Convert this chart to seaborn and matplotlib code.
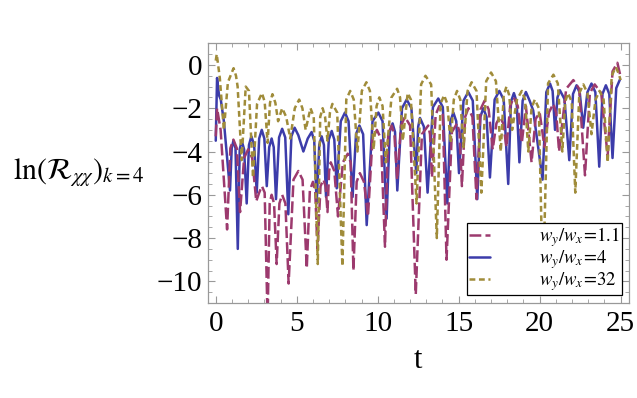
import numpy as np
import pandas as pd
import matplotlib
matplotlib.use("Agg")
import matplotlib.pyplot as plt
import seaborn as sns
from matplotlib.ticker import MultipleLocator

# w_y/w_x = 4 (solid blue) (peaks, shoulders, dips)
t_w4 = [0.0, 0.08, 0.2, 0.31, 0.5, 0.88, 0.985, 1.09, 1.22, 1.36, 1.48, 1.6,
        1.75, 1.91, 2.05, 2.2, 2.37, 2.53, 2.68, 2.84, 3.0, 3.15, 3.3, 3.45,
        3.58, 3.72, 3.91, 4.1, 4.29, 4.48, 4.67, 4.87, 5.1, 5.41, 5.68, 5.92,
        6.08, 6.23, 6.39, 6.54, 6.68, 6.81, 6.98, 7.16, 7.32, 7.47, 7.72,
        7.98, 8.2, 8.45, 8.66, 8.87, 9.1, 9.32, 9.68, 10.04, 10.3, 10.55,
        10.74, 10.92, 11.07, 11.21, 11.5, 11.79, 12.08, 12.38, 12.5, 12.61,
        12.85, 13.08, 13.41, 13.74, 14.02, 14.3, 14.49, 14.67, 14.85, 15.02,
        15.3, 15.59, 15.87, 16.15, 16.34, 16.52, 16.72, 16.93, 17.22, 17.51,
        17.78, 18.06, 18.23, 18.41, 18.58, 18.75, 18.95, 19.15, 19.38, 19.6,
        20.18, 20.41, 20.64, 20.8, 20.95, 21.1, 21.25, 21.53, 21.83, 22.06,
        22.28, 22.48, 22.69, 22.95, 23.2, 23.44, 23.68, 23.88, 24.09, 24.3,
        24.5, 24.73, 24.96]
v_w4 = [-3.5, -0.6, -1.4, -1.6, -2.6, -5.8, -3.85, -3.5, -3.85, -8.5, -3.9,
        -3.5, -3.9, -6.4, -3.7, -3.3, -3.7, -5.9, -3.4, -3.0, -3.4, -5.6,
        -3.8, -3.4, -3.8, -6.2, -3.35, -2.95, -3.35, -6.9, -3.3, -2.9, -3.25,
        -4.0, -3.4, -3.1, -3.5, -6.4, -3.7, -3.3, -3.7, -6.1, -3.45, -3.05,
        -3.45, -5.7, -2.6, -2.2, -2.6, -6.1, -3.2, -2.8, -3.2, -7.4, -2.6,
        -2.2, -2.6, -7.1, -3.1, -2.7, -3.1, -5.8, -2.0, -1.6, -2.0, -5.0,
        -2.85, -2.45, -2.85, -5.9, -1.95, -1.55, -1.95, -6.4, -2.6, -2.2,
        -2.6, -5.0, -1.65, -1.25, -1.65, -6.2, -2.4, -2.0, -2.4, -5.2, -1.6,
        -1.2, -1.6, -5.5, -1.7, -1.3, -1.7, -4.5, -1.65, -1.25, -1.65, -2.1,
        -5.3, -1.26, -0.86, -1.2, -3.0, -1.5, -1.17, -1.57, -4.4, -1.34,
        -0.94, -1.3, -2.9, -1.26, -0.86, -1.26, -4.7, -1.34, -0.94, -1.34,
        -4.3, -1.07, -0.67]

# w_y/w_x = 1.1 (long dashes, magenta)
t_w11 = [0.0, 0.08, 0.3, 0.7, 0.9, 1.09, 1.3, 1.5, 1.75, 2.0, 2.25, 2.5,
         2.68, 2.85, 3.02, 3.2, 3.33, 3.45, 3.6, 3.76, 3.93, 4.1, 4.3, 4.5,
         4.8, 5.1, 5.36, 5.62, 5.81, 6.0, 6.14, 6.28, 6.47, 6.65, 6.78, 6.9,
         7.0, 7.1, 7.32, 7.55, 7.85, 8.15, 8.33, 8.5, 8.7, 8.9, 9.15, 9.4,
         9.68, 9.95, 10.2, 10.45, 10.65, 10.86, 11.03, 11.2, 11.44, 11.68,
         12.0, 12.35, 12.73, 13.12, 13.23, 13.35, 13.58, 13.8, 14.02, 14.25,
         14.58, 14.9, 15.05, 15.2, 15.4, 15.6, 15.85, 16.1, 16.35, 16.6,
         16.85, 17.1, 17.33, 17.55, 17.75, 17.95, 18.18, 18.4, 18.65, 18.9,
         19.15, 19.5, 19.75, 20.0, 20.3, 20.57, 20.84, 21.02, 21.2, 21.64,
         22.08, 22.44, 22.8, 23.1, 23.4, 23.8, 24.2, 24.5, 24.8, 25.0]
v_w11 = [-3.3, -2.0, -3.0, -7.6, -3.85, -3.45, -3.85, -6.8, -4.3, -3.9,
         -4.3, -6.3, -5.9, -5.6, -5.9, -11.8, -6.4, -6.0, -6.4, -9.2, -6.4,
         -6.0, -6.4, -10.1, -5.3, -4.9, -5.3, -9.4, -5.8, -5.4, -5.8, -8.5,
         -5.6, -5.3, -5.6, -6.8, -4.9, -4.5, -4.9, -7.0, -4.5, -4.1, -4.5,
         -9.5, -5.4, -5.0, -5.4, -7.0, -3.4, -3.0, -3.4, -8.4, -3.2, -2.8,
         -3.2, -5.3, -2.8, -2.4, -2.8, -10.6, -3.2, -2.8, -3.2, -5.2, -2.3,
         -1.9, -2.3, -9.0, -3.1, -2.7, -3.1, -5.6, -2.4, -2.0, -2.4, -6.2,
         -2.05, -1.65, -2.05, -3.9, -2.7, -2.4, -2.7, -3.8, -1.9, -1.5, -1.9,
         -3.6, -1.9, -4.5, -2.5, -2.2, -3.8, -2.2, -1.8, -2.2, -4.0, -1.1,
         -0.7, -1.1, -5.1, -1.3, -0.9, -1.3, -4.2, -0.3, 0.1, -0.55]

# w_y/w_x = 32 (short dashes, olive)
t_w32 = [0.0, 0.06, 0.25, 0.5, 0.75, 1.1, 1.25, 1.35, 1.6, 1.85, 2.05, 2.3,
         2.55, 2.85, 3.02, 3.2, 3.35, 3.5, 3.68, 3.85, 4.1, 4.35, 4.6, 4.88,
         5.15, 5.35, 5.55, 5.85, 6.05, 6.3, 6.45, 6.6, 6.75, 6.9, 7.05, 7.2,
         7.5, 7.82, 8.06, 8.3, 8.52, 8.75, 9.02, 9.3, 9.52, 9.75, 9.93, 10.1,
         10.3, 10.5, 10.85, 11.2, 11.38, 11.55, 11.85, 12.05, 12.4, 12.68,
         12.95, 13.3, 13.65, 13.88, 14.1, 14.3, 14.5, 14.7, 14.9, 15.1, 15.3,
         15.55, 15.8, 16.1, 16.4, 16.7, 17.0, 17.3, 17.6, 17.78, 17.95,
         18.12, 18.3, 18.6, 18.9, 19.1, 19.3, 19.5, 19.7, 19.95, 20.2, 20.52,
         20.85, 21.12, 21.4, 21.58, 21.75, 21.98, 22.2, 22.45, 22.7, 22.95,
         23.2, 23.45, 23.7, 23.95, 24.2, 24.45, 24.7, 24.88, 25.0]
v_w32 = [0.2, 0.5, -0.6, -3.0, -0.8, -0.15, -0.5, -1.0, -4.4, -1.0, -1.2,
         -5.2, -1.8, -1.3, -1.7, -3.6, -1.75, -1.35, -1.75, -2.6, -2.0, -2.4,
         -3.4, -2.0, -1.6, -2.0, -3.0, -2.0, -2.4, -9.2, -2.4, -2.0, -2.4,
         -3.5, -2.2, -1.8, -2.2, -9.3, -1.6, -1.2, -1.6, -4.0, -1.2, -0.8,
         -1.2, -3.9, -1.9, -1.5, -1.9, -4.5, -1.5, -1.1, -1.5, -3.5, -1.3,
         -1.6, -6.4, -0.9, -0.5, -0.9, -8.0, -1.8, -1.4, -1.8, -3.6, -1.6,
         -1.2, -1.6, -3.8, -1.2, -0.8, -1.2, -5.9, -0.75, -0.35, -0.75, -4.0,
         -1.4, -1.0, -1.4, -3.0, -1.6, -1.2, -1.6, -4.0, -2.0, -1.6, -2.0,
         -10.5, -0.85, -0.45, -0.85, -4.0, -1.7, -1.3, -1.7, -5.9, -1.3,
         -0.9, -1.3, -3.2, -1.6, -1.2, -1.6, -4.5, -0.5, -0.1, -0.4, -0.7]

labels = [r"$w_y/w_x\!=\!1.1$", r"$w_y/w_x\!=\!4$", r"$w_y/w_x\!=\!32$"]
colors = ["#9c3a6e", "#3c3caa", "#a08c3a"]

sns.set_style("white")
plt.rcParams["font.family"] = ["Liberation Serif", "DejaVu Serif"]
plt.rcParams["mathtext.fontset"] = "stix"
plt.rcParams["lines.scale_dashes"] = False
plt.rcParams["text.color"] = "black"
plt.rcParams["axes.labelcolor"] = "black"
plt.rcParams["xtick.labelcolor"] = "black"
plt.rcParams["ytick.labelcolor"] = "black"

fig = plt.figure(figsize=(6.37, 3.98), dpi=100)
ax = fig.add_axes([0.326, 0.2387, 0.661, 0.6525])

df4 = pd.DataFrame({"t": t_w4, "v": v_w4})
df11 = pd.DataFrame({"t": t_w11, "v": v_w11})
df32 = pd.DataFrame({"t": t_w32, "v": v_w32})

sns.lineplot(data=df4, x="t", y="v", ax=ax, color=colors[1], lw=1.8,
             estimator=None, sort=False, label=labels[1])
sns.lineplot(data=df11, x="t", y="v", ax=ax, color=colors[0], lw=1.8,
             estimator=None, sort=False, label=labels[0],
             linestyle=(0, (8.5, 3.0)), dash_capstyle="butt")
sns.lineplot(data=df32, x="t", y="v", ax=ax, color=colors[2], lw=1.8,
             estimator=None, sort=False, label=labels[2],
             linestyle=(0, (4.2, 2.6)), dash_capstyle="butt")

ax.set_xlim(-0.5, 25.5)
ax.set_ylim(-11, 1)
ax.xaxis.set_major_locator(MultipleLocator(5))
ax.xaxis.set_minor_locator(MultipleLocator(1))
ax.yaxis.set_major_locator(MultipleLocator(2))
ax.yaxis.set_minor_locator(MultipleLocator(0.5))
ax.tick_params(which="both", direction="in", top=True, right=True,
               bottom=True, left=True, color="#999999", labelsize=21)
ax.tick_params(which="major", length=5, width=0.8)
ax.tick_params(which="minor", length=3, width=0.6)
ax.tick_params(axis="x", pad=6)
ax.tick_params(axis="y", pad=4)
for s in ax.spines.values():
    s.set_color("#999999")
    s.set_linewidth(0.9)

ax.set_xlabel("t", fontsize=22, labelpad=6)
ax.set_ylabel(r"$\ln(\mathcal{R}_{\chi\chi})_{k=4}$", fontsize=21.5,
              rotation=0, ha="center", va="center")
ax.yaxis.set_label_coords(-0.307, 0.5)

# legend in the order 1.1, 4, 32
h, l = ax.get_legend_handles_labels()
order = [l.index(x) for x in labels]
leg = ax.legend([h[i] for i in order], [l[i] for i in order],
                loc="lower right", bbox_to_anchor=(0.983, 0.032),
                fontsize=13.5, frameon=True, fancybox=False, framealpha=1,
                edgecolor="black", handlelength=1.1, handletextpad=2.6,
                labelspacing=-0.05, borderpad=0.1, borderaxespad=0)
leg.get_frame().set_linewidth(0.9)

fig.savefig("out.png", dpi=100)
